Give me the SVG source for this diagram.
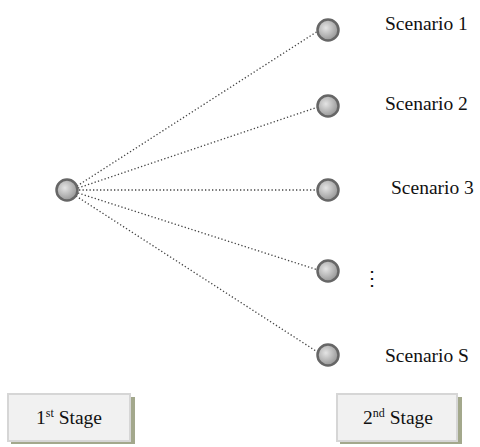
<svg xmlns="http://www.w3.org/2000/svg" width="480" height="447" viewBox="0 0 480 447">
<defs>
<radialGradient id="g" cx="0.4" cy="0.4" r="0.65">
<stop offset="0" stop-color="#e4e4e4"/>
<stop offset="1" stop-color="#929292"/>
</radialGradient>
</defs>
<style>
.n{fill:url(#g);stroke:#666;stroke-width:2.5}
.c{stroke:#444;stroke-width:1.3;stroke-dasharray:1.3 2.2;fill:none}
.box{fill:#f1f1f1;stroke:#d6d6d6;stroke-width:2}
.sh{fill:#a3a88c}
.a{font-family:"Liberation Serif",serif;font-size:19.5px;fill:#111}
</style>
<g id="connectors">
<line class="c" x1="77" y1="186" x2="318" y2="31"/>
<line class="c" x1="78" y1="188" x2="318" y2="107"/>
<line class="c" x1="79" y1="190" x2="317" y2="190"/>
<line class="c" x1="78" y1="193" x2="318" y2="270"/>
<line class="c" x1="76" y1="196" x2="319" y2="353"/>
</g>
<g id="stage1-node"><circle class="n" cx="67" cy="190" r="10.5"/></g>
<g id="s1"><circle class="n" cx="328" cy="30" r="10.5"/><text class="a" x="385" y="30">Scenario 1</text></g>
<g id="s2"><circle class="n" cx="328" cy="106" r="10.5"/><text class="a" x="385" y="110">Scenario 2</text></g>
<g id="s3"><circle class="n" cx="328" cy="190" r="10.5"/><text class="a" x="391" y="194">Scenario 3</text></g>
<g id="sdots"><circle class="n" cx="328" cy="271" r="10.5"/><text class="a" x="362" y="285">⋮</text></g>
<g id="sS"><circle class="n" cx="328" cy="355" r="10.5"/><text class="a" x="385" y="362">Scenario S</text></g>
<g id="stage1">
<rect class="sh" x="11" y="397" width="124" height="47"/>
<rect class="box" x="8" y="394" width="122" height="47"/>
<text class="a" x="69" y="424" text-anchor="middle">1<tspan font-size="12" dy="-7">st</tspan><tspan dy="7"> Stage</tspan></text>
</g>
<g id="stage2">
<rect class="sh" x="340" y="397" width="122" height="47"/>
<rect class="box" x="337" y="394" width="120" height="47"/>
<text class="a" x="398" y="424" text-anchor="middle">2<tspan font-size="12" dy="-7">nd</tspan><tspan dy="7"> Stage</tspan></text>
</g>
</svg>
